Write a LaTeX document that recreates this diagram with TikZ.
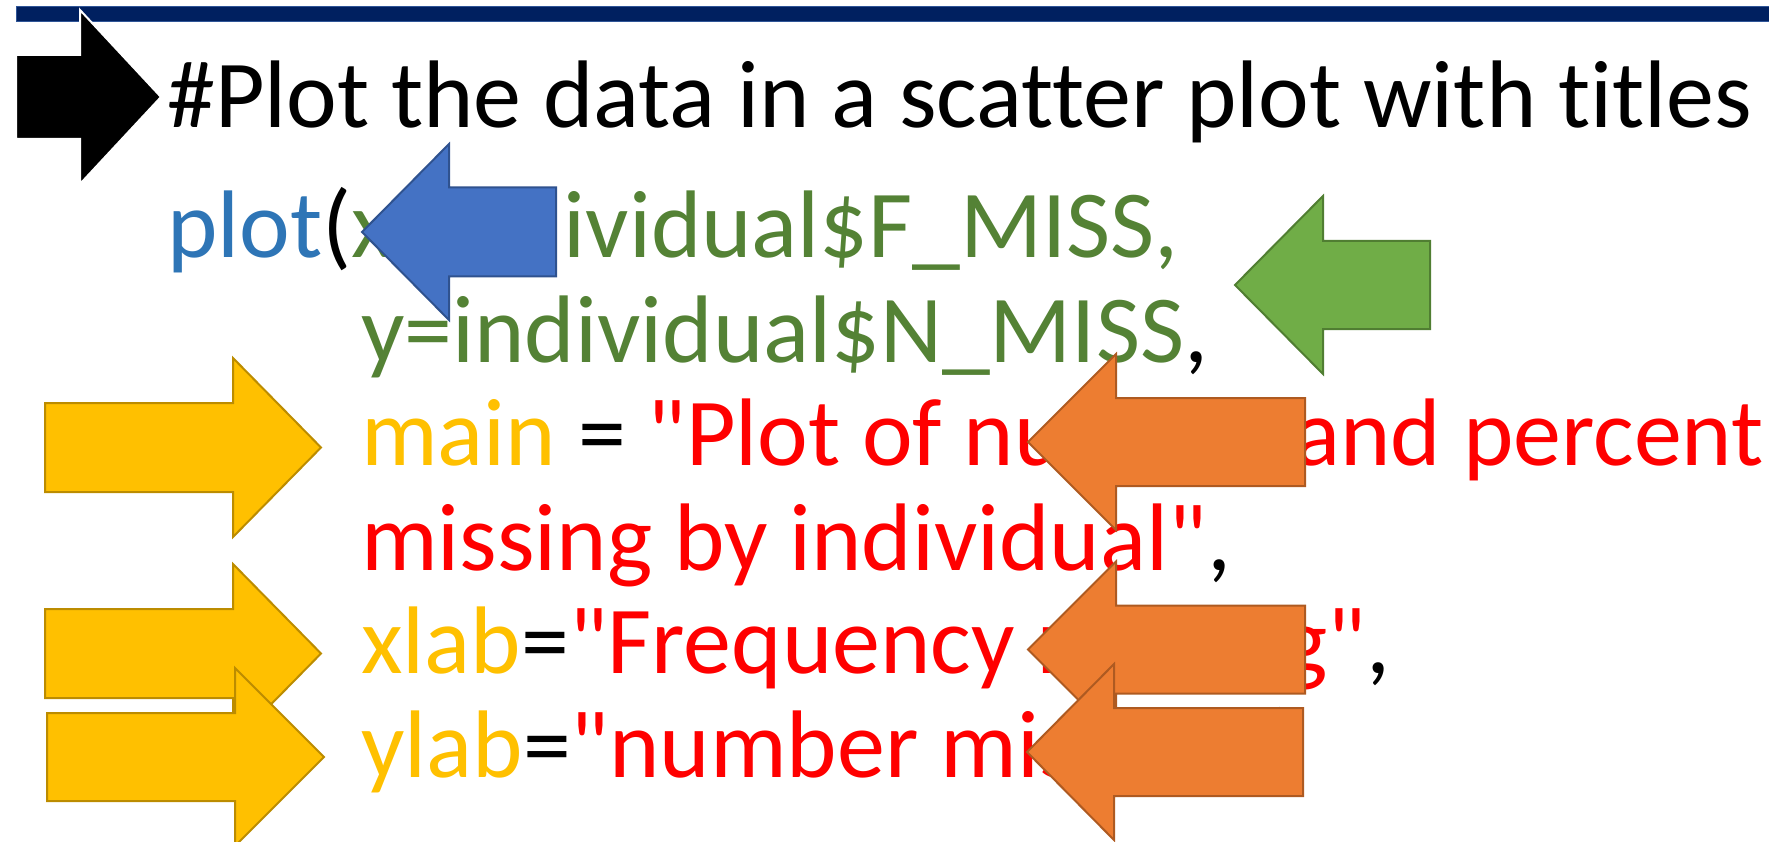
\documentclass[tikz,border=0pt]{standalone}
\usepackage{fontspec}
\newfontfamily\codefont{Carlito}[Ligatures=NoCommon]
\usepackage{xcolor}
\usetikzlibrary{positioning}

\definecolor{barnavy}{RGB}{0,32,96}
\definecolor{baredge}{RGB}{47,85,151}
\definecolor{plotblue}{RGB}{46,117,182}
\definecolor{codegreen}{RGB}{84,130,53}
\definecolor{argyellow}{RGB}{255,192,0}
\definecolor{strred}{RGB}{255,0,0}

% block arrow: style, tail x, head base x, tip x, centre y, shaft half, head half
\newcommand{\blkarrow}[7]{%
  \filldraw[#1] (#2,#5-#6) -- (#3,#5-#6) -- (#3,#5-#7) -- (#4,#5)
    -- (#3,#5+#7) -- (#3,#5+#6) -- (#2,#5+#6) -- cycle;}

\begin{document}
\begin{tikzpicture}[x=1pt,y=-1pt,
    code/.style={anchor=base west,inner sep=0pt,font=\codefont\fontsize{96}{115}\selectfont},
    blk/.style={fill=black,draw=white,line width=2pt},
    blu/.style={fill={rgb,255:red,68;green,114;blue,196},draw={rgb,255:red,47;green,82;blue,143},line width=2pt},
    grn/.style={fill={rgb,255:red,112;green,173;blue,71},draw={rgb,255:red,80;green,126;blue,50},line width=2pt},
    ylw/.style={fill=argyellow,draw={rgb,255:red,188;green,140;blue,0},line width=2pt},
    org/.style={fill={rgb,255:red,237;green,125;blue,49},draw={rgb,255:red,174;green,90;blue,33},line width=2pt}]
  \useasboundingbox (0,0) rectangle (1769,842);

  % title bar
  \filldraw[fill=barnavy,draw=baredge,line width=1pt] (16,7) rectangle (1775,22);

  % the code lines
  \node[code] (l0) at (167,128) {\#Plot the data in a scatter plot with titles};
  \node[code] (l1) at (167,258) {\textcolor{plotblue}{plot}(\textcolor{codegreen}{x=individual\$F\_MISS,}};
  \node[code] (l2) at (361,362) {\textcolor{codegreen}{y=individual\$N\_MISS},};
  \node[code] (l3) at (361,465) {\textcolor{argyellow}{main} = \textcolor{strred}{"Plot of number and percent}};
  \node[code] (l4) at (361,570) {\textcolor{strred}{missing by individual"},};
  \node[code] (l5) at (361,673) {\textcolor{argyellow}{xlab}=\textcolor{strred}{"Frequency missing"},};
  \node[code] (l6) at (361,777) {\textcolor{argyellow}{ylab}=\textcolor{strred}{"number missing"})};

  % arrows
  \blkarrow{blk}{16}{80}{161}{97}{42}{87}
  \blkarrow{blu}{556}{449}{362}{232}{44.5}{88}
  \blkarrow{grn}{1430}{1323}{1235}{285}{44}{89}
  \blkarrow{ylw}{45}{233}{321}{447.5}{44.5}{89.5}
  \blkarrow{ylw}{45}{233}{321}{653.5}{44.5}{89.5}
  \blkarrow{ylw}{47}{235}{324}{757}{44}{89}
  \blkarrow{org}{1305}{1116}{1028}{442}{44}{88}
  \blkarrow{org}{1305}{1116}{1028}{649.5}{44}{88}
  \blkarrow{org}{1303}{1114}{1027}{752}{44}{88}
\end{tikzpicture}
\end{document}
